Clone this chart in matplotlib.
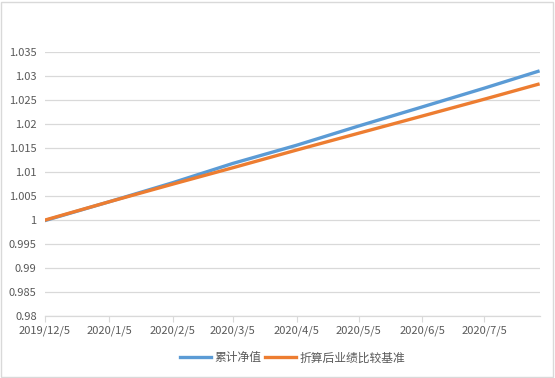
import datetime as dt
import matplotlib
matplotlib.use("Agg")
import matplotlib.pyplot as plt
from matplotlib.patches import Rectangle

plt.rcParams['font.family'] = ['Noto Sans CJK SC', 'DejaVu Sans']

# data
dates = ["2019-12-05", "2020-01-05", "2020-02-05", "2020-03-05", "2020-04-05",
         "2020-05-05", "2020-06-05", "2020-07-05", "2020-07-31"]
nav = [0.9999, 1.0038, 1.0078, 1.0118, 1.0156, 1.0196, 1.0236, 1.0275, 1.0310]
bench = [1.0000, 1.0038, 1.0075, 1.0109, 1.0146, 1.0181, 1.0217, 1.0252, 1.0283]
tick_dates = ["2019-12-05", "2020-01-05", "2020-02-05", "2020-03-05", "2020-04-05",
              "2020-05-05", "2020-06-05", "2020-07-05"]
tick_labels = ["2019/12/5", "2020/1/5", "2020/2/5", "2020/3/5", "2020/4/5",
               "2020/5/5", "2020/6/5", "2020/7/5"]
y_ticks = [0.98, 0.985, 0.99, 0.995, 1, 1.005, 1.01, 1.015, 1.02, 1.025, 1.03, 1.035]
y_labels = ["0.98", "0.985", "0.99", "0.995", "1", "1.005", "1.01", "1.015",
            "1.02", "1.025", "1.03", "1.035"]

x = [dt.datetime.strptime(d, "%Y-%m-%d") for d in dates]
xt = [dt.datetime.strptime(d, "%Y-%m-%d") for d in tick_dates]

fig = plt.figure(figsize=(5.55, 3.78), dpi=100)
ax = fig.add_axes([0.0811, 0.164, 0.892, 0.698])

ax.plot(x, nav, color='#5B9BD5', lw=2.4, label='累计净值', zorder=3)
ax.plot(x, bench, color='#ED7D31', lw=2.4, label='折算后业绩比较基准', zorder=3)

ax.set_xlim(x[0], dt.datetime(2020, 8, 1))
ax.set_ylim(0.98, 1.035)
ax.set_yticks(y_ticks)
ax.set_yticklabels(y_labels)
ax.set_xticks(xt)
ax.set_xticklabels(tick_labels)
ax.grid(axis='y', color='#D9D9D9', lw=0.9)
ax.set_axisbelow(True)

for s in ['top', 'right', 'left']:
    ax.spines[s].set_visible(False)
ax.spines['bottom'].set_color('#D9D9D9')
ax.spines['bottom'].set_linewidth(0.9)
ax.tick_params(axis='y', length=0, labelsize=8, labelcolor='#595959', pad=6)
ax.tick_params(axis='x', length=4, color='#D9D9D9', labelsize=8, labelcolor='#595959', pad=3)

ax.legend(loc='center', bbox_to_anchor=(0.5, -0.159), ncol=2, frameon=False,
          fontsize=8.5, labelcolor='#595959', handlelength=2.6, handletextpad=0.3,
          columnspacing=0.3, borderpad=0)

fig.patches.append(Rectangle((0.002, 0.003), 0.995, 0.993, transform=fig.transFigure,
                             fill=False, edgecolor='#D9D9D9', lw=1))

plt.savefig('out.png', dpi=100)
